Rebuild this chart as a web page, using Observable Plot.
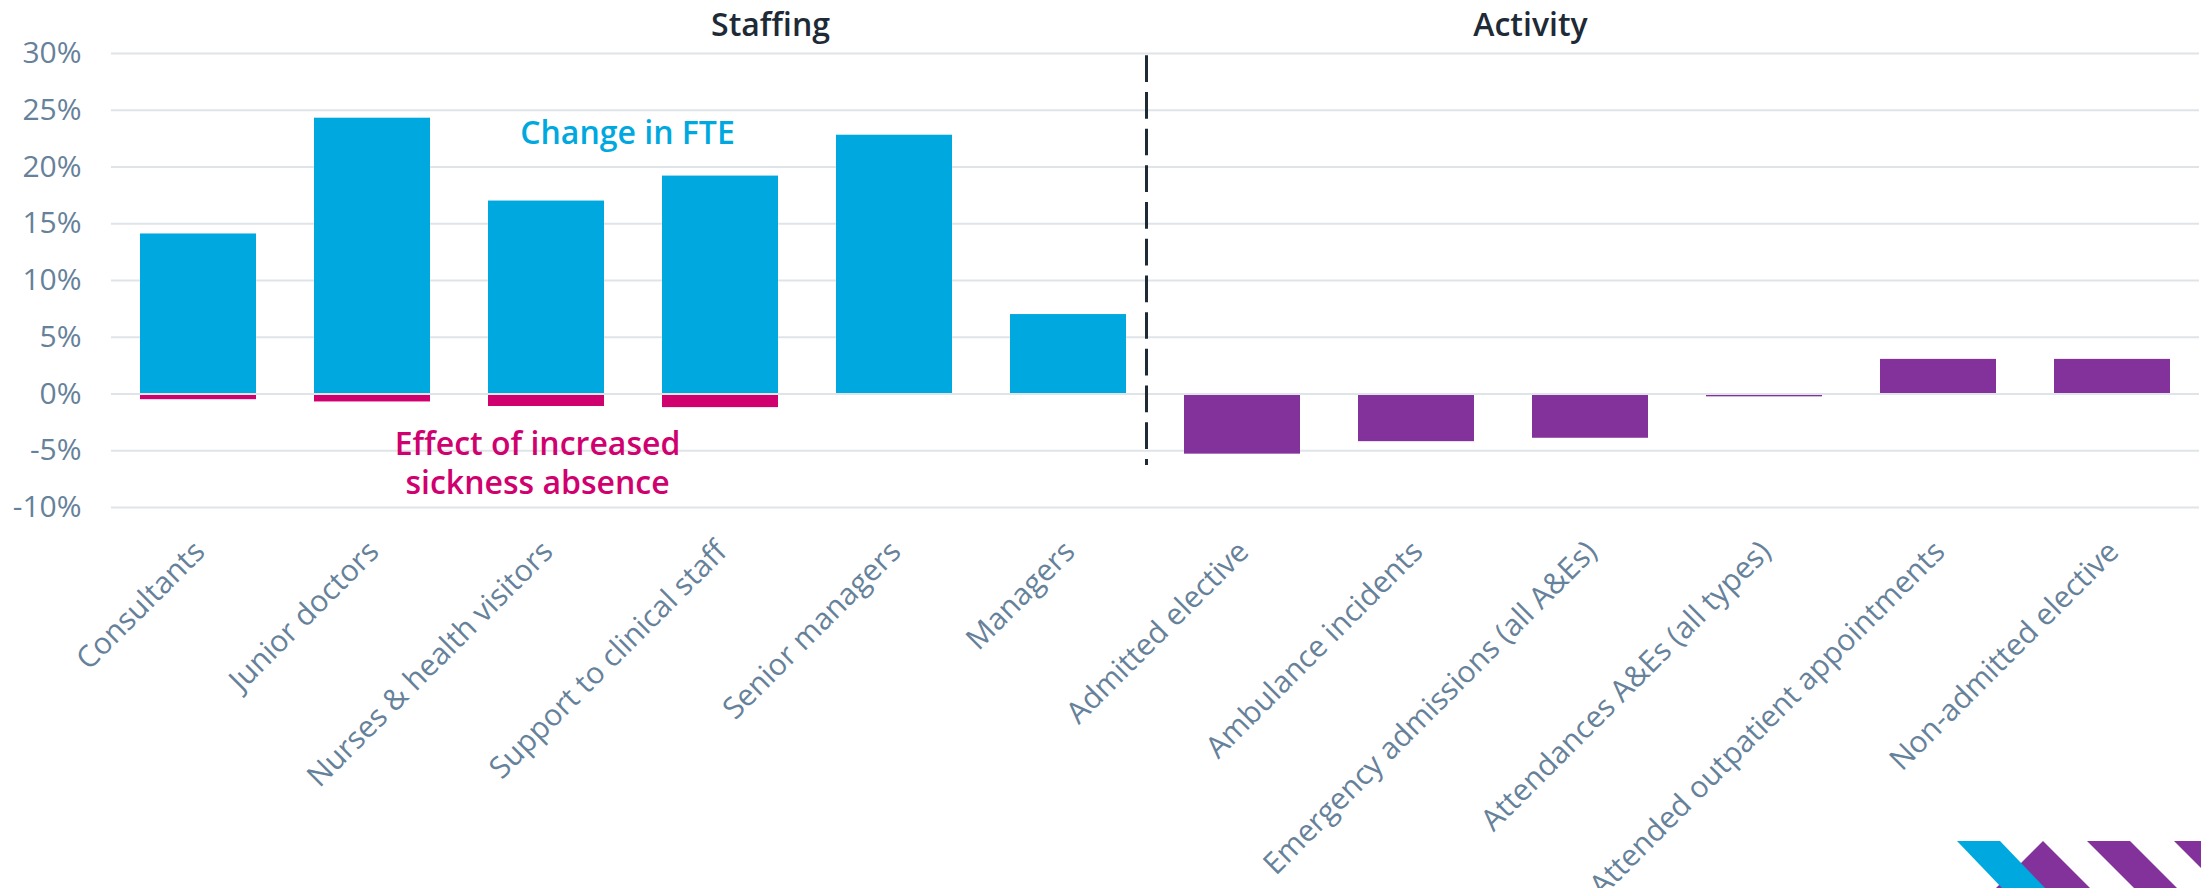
<!DOCTYPE html>
<html>
<head>
<meta charset="utf-8">
<script src="https://cdn.jsdelivr.net/npm/d3@7"></script>
<script src="https://cdn.jsdelivr.net/npm/@observablehq/plot@0.6"></script>
<style>
  html, body { margin: 0; padding: 0; background: #fff; overflow: hidden; }
  #wrap { position: relative; width: 2201px; height: 888px; overflow: hidden; }
  #logo { position: absolute; left: 1940px; top: 841px; }
</style>
</head>
<body>
<div id="wrap">
  <div id="chart"></div>
  <svg id="logo" width="261" height="47" viewBox="0 0 261 47">
    <polygon points="103,0 150,47 56,47" fill="#84329b"/>
    <polygon points="17,0 60,0 105,47 62,47" fill="#00a8e0"/>
    <polygon points="147,0 190,0 237,47 194,47" fill="#84329b"/>
    <polygon points="234,0 277,0 324,47 281,47" fill="#84329b"/>
  </svg>
</div>
<script>
// ---- Data ----
const staffingCategories = ["Consultants", "Junior doctors", "Nurses & health visitors", "Support to clinical staff", "Senior managers", "Managers"];
const activityCategories = ["Admitted elective", "Ambulance incidents", "Emergency admissions (all A&Es)", "Attendances A&Es (all types)", "Attended outpatient appointments", "Non-admitted elective"];
const fteChange = [14.1, 24.3, 17.0, 19.2, 22.8, 7.0];
const sicknessEffect = [-0.5, -0.7, -1.1, -1.2, -0.05, -0.05];
const activityChange = [-5.3, -4.2, -3.9, -0.25, 3.05, 3.05];
const yTicks = [-10, -5, 0, 5, 10, 15, 20, 25, 30];
const groupTitles = ["Staffing", "Activity"];
const fteLabel = "Change in FTE";
const sicknessLabel = "Effect of increased\nsickness absence";

// ---- Tables ----
const categories = [...staffingCategories, ...activityCategories];
const fteData = staffingCategories.map((c, i) => ({category: c, value: fteChange[i]}));
const sickData = staffingCategories.map((c, i) => ({category: c, value: sicknessEffect[i]}));
const actData = activityCategories.map((c, i) => ({category: c, value: activityChange[i]}));

const tickColor = "#66819a";
const font = "'Open Sans', sans-serif";

const chart = Plot.plot({
  width: 2201,
  height: 888,
  marginTop: 53,
  marginBottom: 381,
  marginLeft: 111,
  marginRight: 2,
  style: {fontFamily: font, background: "white", overflow: "visible"},
  x: {type: "band", domain: categories, paddingInner: 1/3, paddingOuter: 1/6, axis: null},
  y: {domain: [-10, 30], axis: null},
  marks: [
    Plot.gridY(yTicks, {stroke: "#dfe4e8", strokeOpacity: 1, strokeWidth: 2}),
    Plot.axisY(yTicks, {tickSize: 0, tickPadding: 30, tickFormat: d => `${d}%`, fontSize: 30, color: tickColor, label: null}),
    Plot.barY(fteData, {x: "category", y: "value", fill: "#00a8e0"}),
    Plot.barY(sickData, {x: "category", y: "value", fill: "#d0006f"}),
    Plot.barY(actData, {x: "category", y: "value", fill: "#84329b"}),
    Plot.ruleY([0], {stroke: "#dfe4e8", strokeWidth: 2}),
    Plot.ruleX(["Managers"], {x: d => d, y1: 29.8, y2: -6.3, dx: 78, stroke: "#1e2a36", strokeWidth: 3, strokeDasharray: "26.7,10"}),
    Plot.text(categories, {x: d => d, frameAnchor: "bottom", rotate: -45, textAnchor: "end", lineAnchor: "bottom", dx: 8, dy: 46, fontSize: 30, fill: tickColor}),
    Plot.text([groupTitles[0]], {x: () => "Support to clinical staff", frameAnchor: "top", lineAnchor: "bottom", dx: 50, dy: -18, fontSize: 32, fontWeight: 600, fill: "#1e2a36"}),
    Plot.text([groupTitles[1]], {x: () => "Emergency admissions (all A&Es)", frameAnchor: "top", lineAnchor: "bottom", dx: -60, dy: -18, fontSize: 32, fontWeight: 600, fill: "#1e2a36"}),
    Plot.text([fteLabel], {x: () => "Nurses & health visitors", y: () => 22, lineAnchor: "bottom", dx: 81, fontSize: 32, fontWeight: 600, fill: "#00a8e0"}),
    Plot.text([sicknessLabel], {x: () => "Nurses & health visitors", y: () => -8.85, lineAnchor: "bottom", lineHeight: 1.22, dx: -9, fontSize: 32, fontWeight: 600, fill: "#d0006f"})
  ]
});
document.getElementById("chart").appendChild(chart);
</script>
</body>
</html>
